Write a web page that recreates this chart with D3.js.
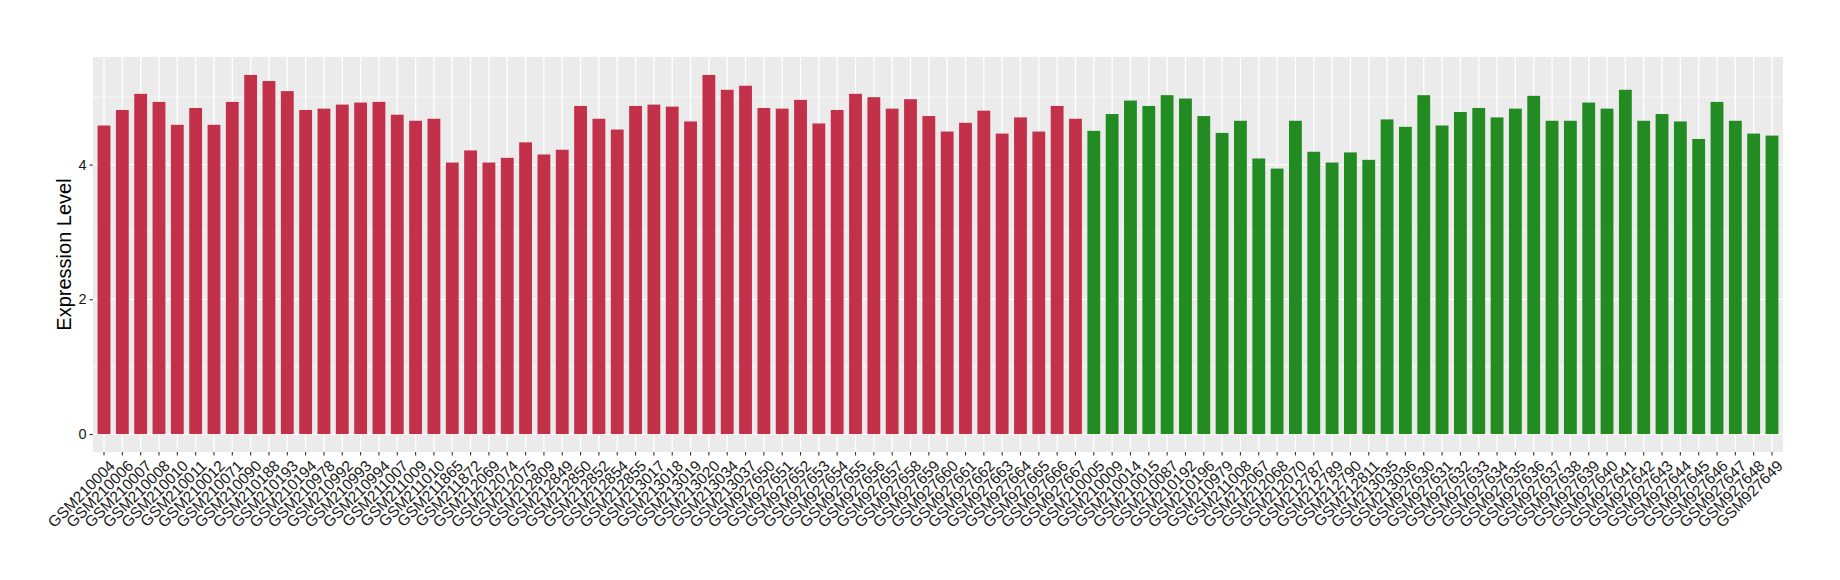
<!DOCTYPE html>
<html>
<head>
<meta charset="utf-8">
<script src="https://cdn.jsdelivr.net/npm/d3@7"></script>
<style>
  html, body { margin: 0; padding: 0; background: #ffffff; }
  svg { display: block; }
  text { font-family: "Liberation Sans", Arial, Helvetica, sans-serif; }
</style>
</head>
<body>
<svg id="chart" width="1840" height="580"></svg>
<script>
// ---- Data ----
const groupASamples = [
  "GSM210004","GSM210006","GSM210007","GSM210008","GSM210010","GSM210011","GSM210012","GSM210071",
  "GSM210090","GSM210188","GSM210193","GSM210194","GSM210978","GSM210992","GSM210993","GSM210994",
  "GSM211007","GSM211009","GSM211010","GSM211865","GSM211872","GSM212069","GSM212074","GSM212075",
  "GSM212809","GSM212849","GSM212850","GSM212852","GSM212854","GSM212855","GSM213017","GSM213018",
  "GSM213019","GSM213020","GSM213034","GSM213037","GSM927650","GSM927651","GSM927652","GSM927653",
  "GSM927654","GSM927655","GSM927656","GSM927657","GSM927658","GSM927659","GSM927660","GSM927661",
  "GSM927662","GSM927663","GSM927664","GSM927665","GSM927666","GSM927667"
];
const groupAValues = [
  4.58,4.81,5.05,4.93,4.59,4.84,4.59,4.93,
  5.33,5.24,5.09,4.81,4.83,4.89,4.92,4.93,
  4.74,4.65,4.68,4.03,4.21,4.03,4.10,4.33,
  4.15,4.22,4.87,4.68,4.52,4.87,4.89,4.86,
  4.64,5.33,5.11,5.17,4.84,4.83,4.96,4.61,
  4.81,5.05,5.00,4.83,4.97,4.72,4.49,4.62,
  4.80,4.46,4.70,4.49,4.87,4.68
];
const groupBSamples = [
  "GSM210005","GSM210009","GSM210014","GSM210015","GSM210087","GSM210192","GSM210196","GSM210979",
  "GSM211008","GSM212067","GSM212068","GSM212070","GSM212787","GSM212789","GSM212790","GSM212811",
  "GSM213035","GSM213036","GSM927630","GSM927631","GSM927632","GSM927633","GSM927634","GSM927635",
  "GSM927636","GSM927637","GSM927638","GSM927639","GSM927640","GSM927641","GSM927642","GSM927643",
  "GSM927644","GSM927645","GSM927646","GSM927647","GSM927648","GSM927649"
];
const groupBValues = [
  4.50,4.75,4.95,4.87,5.03,4.98,4.72,4.47,
  4.65,4.09,3.94,4.65,4.19,4.03,4.18,4.07,
  4.67,4.56,5.03,4.58,4.78,4.84,4.70,4.83,
  5.02,4.65,4.65,4.92,4.83,5.11,4.65,4.75,
  4.64,4.38,4.93,4.65,4.46,4.43
];
const groupColors = ["#C3304A", "#228B22"];
const yTicks = [0, 2, 4];
const yMinorTicks = [1, 3, 5];
const yTitle = "Expression Level";

// ---- Build table ----
const rows = [
  ...groupASamples.map((s, i) => ({ sample: s, value: groupAValues[i], group: 0 })),
  ...groupBSamples.map((s, i) => ({ sample: s, value: groupBValues[i], group: 1 }))
];

// ---- Layout ----
const panel = { left: 93, right: 1783, top: 57, bottom: 452 };
const svg = d3.select("#chart");

const x = d3.scaleBand()
  .domain(rows.map(d => d.sample))
  .range([panel.left, panel.right])
  .paddingInner(0.3)
  .paddingOuter(0.25);

const maxV = d3.max(rows, d => d.value);
const yExp = maxV * 0.05;
const y = d3.scaleLinear()
  .domain([-yExp, maxV + yExp])
  .range([panel.bottom, panel.top]);

// panel background
svg.append("rect")
  .attr("x", panel.left).attr("y", panel.top)
  .attr("width", panel.right - panel.left)
  .attr("height", panel.bottom - panel.top)
  .attr("fill", "#EBEBEB");

// minor y grid
svg.append("g").selectAll("line").data(yMinorTicks).join("line")
  .attr("x1", panel.left).attr("x2", panel.right)
  .attr("y1", d => y(d)).attr("y2", d => y(d))
  .attr("stroke", "#ffffff").attr("stroke-width", 0.7);

// major y grid
svg.append("g").selectAll("line").data(yTicks).join("line")
  .attr("x1", panel.left).attr("x2", panel.right)
  .attr("y1", d => y(d)).attr("y2", d => y(d))
  .attr("stroke", "#ffffff").attr("stroke-width", 1.3);

// major x grid
svg.append("g").selectAll("line").data(rows).join("line")
  .attr("x1", d => x(d.sample) + x.bandwidth() / 2)
  .attr("x2", d => x(d.sample) + x.bandwidth() / 2)
  .attr("y1", panel.top).attr("y2", panel.bottom)
  .attr("stroke", "#ffffff").attr("stroke-width", 1.3);

// bars
svg.append("g").selectAll("rect").data(rows).join("rect")
  .attr("x", d => x(d.sample))
  .attr("width", x.bandwidth())
  .attr("y", d => y(d.value))
  .attr("height", d => y(0) - y(d.value))
  .attr("fill", d => groupColors[d.group]);

// y axis
const yAxis = d3.axisLeft(y).tickValues(yTicks).tickSize(3.5).tickPadding(3).tickFormat(d3.format("d"));
const gy = svg.append("g").attr("transform", `translate(${panel.left},0)`).call(yAxis);
gy.select(".domain").remove();
gy.selectAll(".tick line").attr("stroke", "#333333").attr("stroke-width", 1.1);
gy.selectAll(".tick text").attr("fill", "#1a1a1a").style("font-size", "14.5px")
  .style("font-family", "'Liberation Sans', Arial, sans-serif");

// x axis
const xAxis = d3.axisBottom(x).tickSize(3.5).tickPadding(2);
const gx = svg.append("g").attr("transform", `translate(0,${panel.bottom})`).call(xAxis);
gx.select(".domain").remove();
gx.selectAll(".tick line").attr("stroke", "#333333").attr("stroke-width", 1.1);
gx.selectAll(".tick text")
  .attr("fill", "#1a1a1a")
  .style("font-size", "15.5px")
  .style("font-family", "'Liberation Sans', Arial, sans-serif")
  .attr("text-anchor", "end")
  .attr("y", 0).attr("dy", "0.72em")
  .attr("transform", "translate(4,7) rotate(-45)");

// y title
svg.append("text")
  .attr("transform", `translate(71,${(panel.top + panel.bottom) / 2}) rotate(-90)`)
  .attr("text-anchor", "middle")
  .attr("fill", "#000000")
  .style("font-size", "20px")
  .text(yTitle);
</script>
</body>
</html>
